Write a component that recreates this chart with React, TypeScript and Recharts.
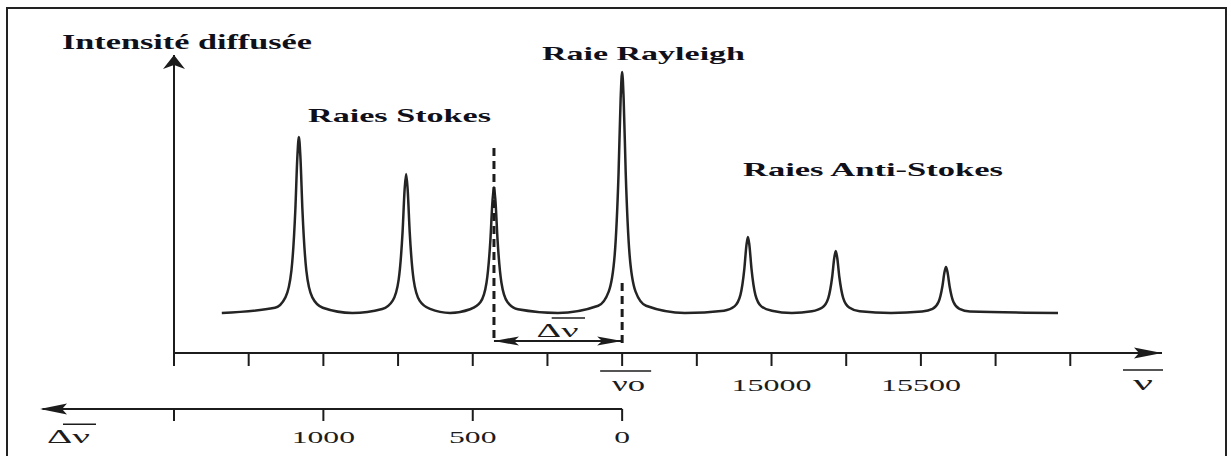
import { LineChart, Line, XAxis, YAxis, ReferenceLine, ReferenceDot } from "recharts"

// spectrum: wavenumber (cm-1) and scattered intensity (arb. units)
const spectrumNu = [
  13160,
  13338, 13373, 13393, 13406, 13413, 13418, 13423, 13430, 13443, 13463, 13498,
  13597,
  13697, 13732, 13752, 13765, 13772, 13777, 13782, 13789, 13802, 13822, 13857,
  13924,
  13991, 14026, 14046, 14059, 14066, 14071, 14076, 14083, 14096, 14116, 14151,
  14285,
  14420, 14455, 14475, 14488, 14495, 14500, 14505, 14512, 14525, 14545, 14580,
  14710,
  14841, 14876, 14896, 14909, 14916, 14921, 14926, 14933, 14946, 14966, 15001,
  15068,
  15135, 15170, 15190, 15203, 15210, 15215, 15220, 15227, 15240, 15260, 15295,
  15400,
  15504, 15539, 15559, 15572, 15579, 15584, 15589, 15596, 15609, 15629, 15664,
  15959,
]
const spectrumIntensity = [
  13.9,
  15.7, 19.3, 28.6, 49.4, 68.3, 75.0, 68.3, 49.4, 28.6, 19.3, 15.7,
  13.9,
  15.3, 18.2, 25.5, 41.9, 56.9, 62.2, 56.9, 41.9, 25.5, 18.2, 15.3,
  13.9,
  15.2, 17.7, 24.4, 39.2, 52.8, 57.6, 52.8, 39.2, 24.4, 17.7, 15.2,
  13.9,
  16.4, 21.3, 34.0, 62.4, 88.4, 97.6, 88.4, 62.4, 34.0, 21.3, 16.4,
  13.9,
  14.7, 16.2, 20.2, 29.2, 37.4, 40.3, 37.4, 29.2, 20.2, 16.2, 14.7,
  13.9,
  14.5, 15.8, 19.1, 26.4, 33.0, 35.4, 33.0, 26.4, 19.1, 15.8, 14.5,
  13.9,
  14.4, 15.3, 17.7, 23.2, 28.1, 29.9, 28.1, 23.2, 17.7, 15.3, 14.4,
  13.9,
]

const nuTicks = [13000, 13250, 13500, 13750, 14000, 14250, 14500, 14750, 15000, 15250, 15500, 15750, 16000]
const nuZero = 14500
const nuLabels = [15000, 15500]
const deltaTicks = [1500, 1000, 500, 0]
const deltaLabels = [1000, 500, 0]
const shiftFrom = 14071

// Raman shift measured from the Rayleigh line
const data = spectrumNu.map((nu, i) => ({ nu, delta: nuZero - nu, intensity: spectrumIntensity[i] }))

const INK = "#1c1c1c"
const SERIF = '"Liberation Serif", "Times New Roman", serif'

function Caption({ cx, cy, text, width, size = 19, bold = false, bar }: any) {
  return (
    <g>
      <text
        x={cx}
        y={cy}
        textAnchor="middle"
        fontFamily={SERIF}
        fontSize={size}
        fontWeight={bold ? 700 : 400}
        fill={bold ? "#10101a" : INK}
        textLength={width}
        lengthAdjust="spacingAndGlyphs"
      >
        {text}
      </text>
      {bar && (
        <line x1={cx + bar[0]} x2={cx + bar[1]} y1={cy + bar[2]} y2={cy + bar[2]} stroke={INK} strokeWidth={1.6} />
      )}
    </g>
  )
}

const caption = (text: string, width: number, size: number, bold = false, bar?: number[]) => (p: any) =>
  <Caption cx={p.cx} cy={p.cy} text={text} width={width} size={size} bold={bold} bar={bar} />

const arrow = (pts: number[][]) => (p: any) =>
  <polygon points={pts.map(([dx, dy]) => `${p.cx + dx},${p.cy + dy}`).join(" ")} fill={INK} />

function NuTick({ x, y, payload }: any) {
  const v = payload.value
  if (v === nuZero) return <Caption cx={x + 6.5} cy={y + 25} text="νo" width={33} size={20} bar={[-28.5, 22.5, -20]} />
  if (nuLabels.includes(v)) return <Caption cx={x} cy={y + 25} text={String(v)} width={80} size={17} />
  return <g />
}

function DeltaTick({ x, y, payload }: any) {
  const v = payload.value
  if (!deltaLabels.includes(v)) return <g />
  const s = String(v)
  return <Caption cx={x} cy={y + 22} text={s} width={s.length * 15.8} size={17} />
}

export default function App() {
  return (
    <div style={{ position: "absolute", left: 0, top: 0, width: 1231, height: 456, overflow: "hidden", background: "#fff" }}>
      <div style={{ position: "absolute", left: 6, top: 7, width: 1217, height: 480, border: "2px solid #222" }} />
      <div style={{ position: "absolute", left: 0, top: 0 }}>
        <LineChart width={1231} height={456} data={data} margin={{ top: 55, right: 69, left: 114, bottom: 17 }}>
          <XAxis
            dataKey="nu"
            type="number"
            domain={[13000, 16307]}
            allowDataOverflow
            ticks={nuTicks}
            interval={0}
            height={56}
            tickSize={13}
            tickMargin={0}
            axisLine={{ stroke: INK, strokeWidth: 2 }}
            tickLine={{ stroke: INK, strokeWidth: 2 }}
            tick={<NuTick />}
          />
          <XAxis
            xAxisId="delta"
            dataKey="delta"
            type="number"
            domain={[-1807, 1500]}
            allowDataOverflow
            reversed
            ticks={deltaTicks}
            interval={0}
            height={30}
            tickSize={12}
            tickMargin={0}
            axisLine={false}
            tickLine={{ stroke: INK, strokeWidth: 2 }}
            tick={<DeltaTick />}
          />
          <YAxis
            type="number"
            domain={[0, 103.5]}
            allowDataOverflow
            ticks={[]}
            tick={false}
            tickLine={false}
            axisLine={{ stroke: INK, strokeWidth: 2 }}
          />

          <Line
            type="monotone"
            dataKey="intensity"
            stroke="#242424"
            strokeWidth={2.5}
            dot={false}
            isAnimationActive={false}
          />

          {/* Stokes shift bracket */}
          <ReferenceLine
            segment={[{ x: shiftFrom, y: 71.2 }, { x: shiftFrom, y: 3.47 }]}
            stroke={INK}
            strokeWidth={3}
            strokeDasharray="8 5"
          />
          <ReferenceLine
            segment={[{ x: nuZero, y: 24.3 }, { x: nuZero, y: 3.47 }]}
            stroke={INK}
            strokeWidth={3}
            strokeDasharray="8 5"
          />
          <ReferenceLine segment={[{ x: shiftFrom, y: 4.17 }, { x: nuZero, y: 4.17 }]} stroke={INK} strokeWidth={1.8} />
          <ReferenceDot x={shiftFrom} y={4.17} shape={arrow([[0, 0], [25, -4.5], [20, 0], [25, 4.5]])} />
          <ReferenceDot x={nuZero} y={4.17} shape={arrow([[0, 0], [-25, -4.5], [-20, 0], [-25, 4.5]])} />
          <ReferenceDot x={14283.6} y={5.56} shape={caption("Δν", 42, 19, false, [-5.8, 27.5, -19])} />

          {/* axis arrow heads */}
          <ReferenceDot x={13000} y={103.5} ifOverflow="visible" shape={arrow([[0, 0], [-11, 14], [0, 10], [11, 14]])} />
          <ReferenceDot x={16307} y={0} ifOverflow="visible" shape={arrow([[0, 0], [-28, -5.5], [-23, 0], [-28, 5.5]])} />
          <ReferenceDot x={16243.4} y={-12.85} ifOverflow="visible" shape={caption("ν", 20, 20, false, [-20, 20, -20])} />

          {/* Δν scale line */}
          <ReferenceLine
            xAxisId="delta"
            segment={[{ x: 1940, y: -19.45 }, { x: 0, y: -19.45 }]}
            ifOverflow="visible"
            stroke={INK}
            strokeWidth={2}
          />
          <ReferenceDot
            xAxisId="delta"
            x={1948.5}
            y={-19.45}
            ifOverflow="visible"
            shape={arrow([[0, 0], [27, -5.5], [22, 0], [27, 5.5]])}
          />
          <ReferenceDot
            xAxisId="delta"
            x={1853.1}
            y={-31.26}
            ifOverflow="visible"
            shape={caption("Δν", 43, 19, false, [-5.5, 27.5, -18.7])}
          />

          {/* titles */}
          <ReferenceDot x={13043.5} y={105.58} ifOverflow="visible" shape={caption("Intensité diffusée", 250, 20, true)} />
          <ReferenceDot x={13754.8} y={80.23} ifOverflow="visible" shape={caption("Raies Stokes", 183, 19, true)} />
          <ReferenceDot x={14571.5} y={101.59} ifOverflow="visible" shape={caption("Raie Rayleigh", 203, 19, true)} />
          <ReferenceDot x={15339.7} y={61.47} ifOverflow="visible" shape={caption("Raies Anti-Stokes", 260, 19, true)} />
        </LineChart>
      </div>
    </div>
  )
}
